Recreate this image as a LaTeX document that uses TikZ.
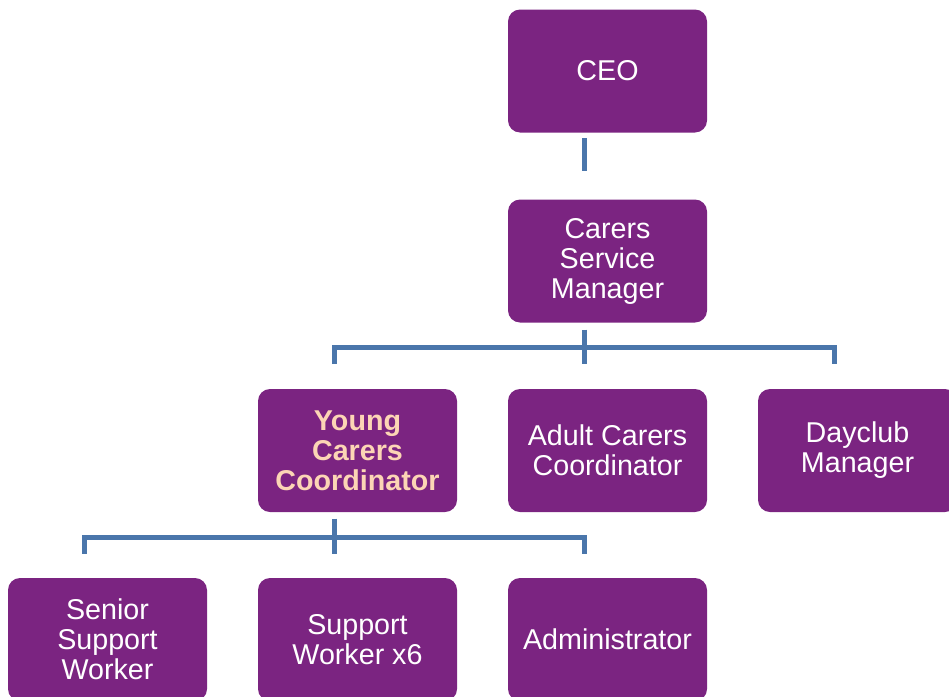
\documentclass[tikz,border=0pt]{standalone}
\usepackage{fontspec}
\setmainfont{Liberation Sans}
\usetikzlibrary{positioning}

\definecolor{orgpurple}{HTML}{7B2481}
\definecolor{orgblue}{HTML}{4A76AB}
\definecolor{orgpeach}{HTML}{FCD5B5}

\begin{document}
\begin{tikzpicture}
[x=0.75pt, y=-0.75pt, line width=3.75pt,
post/.style={rectangle, fill=orgpurple, text=white, rounded corners=9pt,
  minimum width=149.25pt, minimum height=92.25pt, inner sep=0pt, align=center,
  font=\fontsize{21.5}{22.5}\selectfont},
link/.style={draw=orgblue}]

\useasboundingbox (0,0) rectangle (949,696);
\clip (0,0) rectangle (949,696);

\node[post] (ceo) at (607.5,71) {CEO};
\node[post] (csm) at (607.5,261) {Carers\\Service\\Manager};

\node[post, text=orgpeach, font=\fontsize{21.5}{22.5}\selectfont\bfseries] (ycc) at (357.5,450.5) {Young\\Carers\\Coordinator};
\node[post] (acc) at (607.5,450.5) {Adult Carers\\Coordinator};
\node[post] (dcm) at (857.5,450.5) {Dayclub\\Manager};

\node[post] (ssw) at (107.5,639.5) {Senior\\Support\\Worker};
\node[post] (sw) at (357.5,639.5) {Support\\Worker x6};
\node[post] (adm) at (607.5,639.5) {Administrator};

% CEO -> manager
\coordinate (ceo-s) at (584.6,138);
\coordinate (csm-n) at (584.6,171);
\draw[link] (ceo-s) -- (csm-n);

% manager -> coordinators
\coordinate (csm-s) at (584.6,329.6);
\coordinate (bar1) at (584.6,347);
\coordinate (ycc-n) at (334.6,364);
\coordinate (acc-n) at (584.6,364);
\coordinate (dcm-n) at (834.6,364);
\draw[link] (ycc-n) |- (bar1) -| (dcm-n);
\draw[link] (csm-s) -- (acc-n);

% young carers team
\coordinate (ycc-s) at (334.6,518.6);
\coordinate (bar2) at (334.6,537);
\coordinate (ssw-n) at (84.6,553.6);
\coordinate (sw-n) at (334.6,553.6);
\coordinate (adm-n) at (584.6,553.6);
\draw[link] (ssw-n) |- (bar2) -| (adm-n);
\draw[link] (ycc-s) -- (sw-n);
\end{tikzpicture}
\end{document}
